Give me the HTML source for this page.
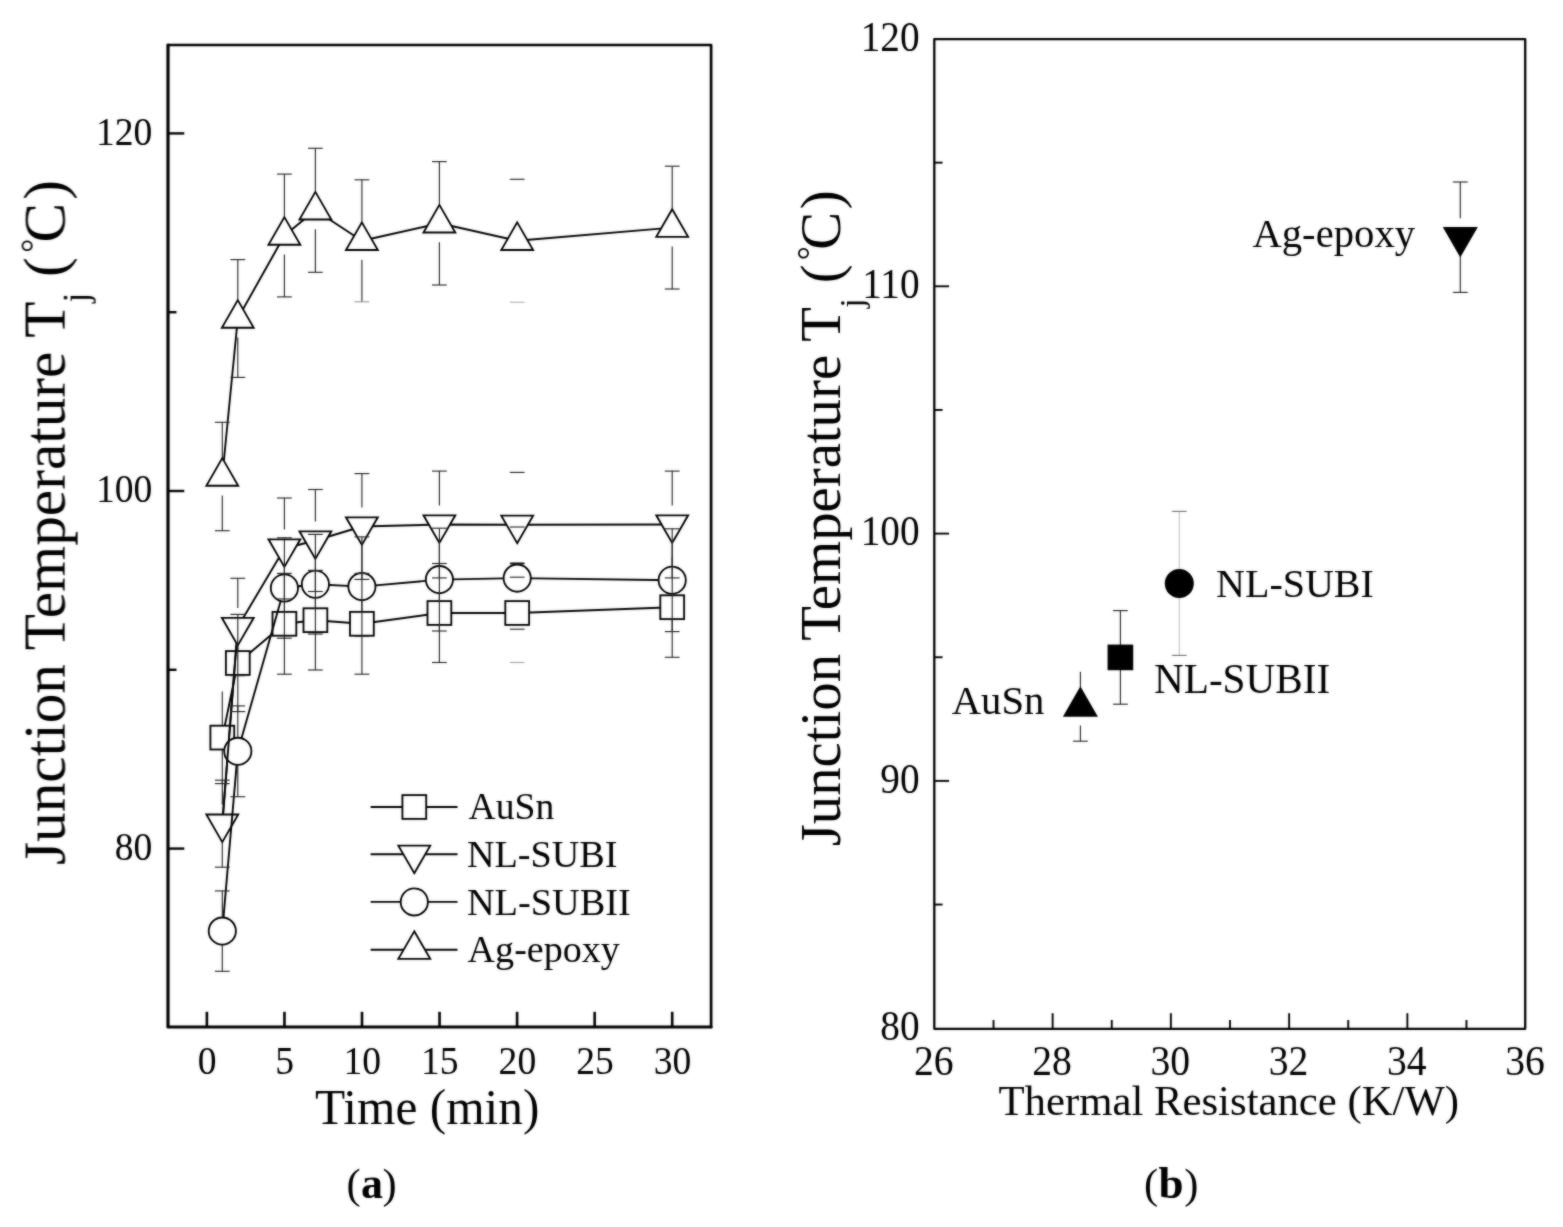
<!DOCTYPE html>
<html lang="en"><head><meta charset="utf-8"><title>Junction temperature vs time and thermal resistance</title>
<style>html,body{margin:0;padding:0;background:#fff;}body{width:1563px;height:1227px;overflow:hidden;}svg{display:block;font-family:'Liberation Serif', serif;}text{fill:#000;}</style>
</head><body>
<svg width="1563" height="1227" viewBox="0 0 1563 1227">
<defs><filter id="soft" filterUnits="userSpaceOnUse" x="0" y="0" width="1563" height="1227" color-interpolation-filters="sRGB"><feGaussianBlur in="SourceGraphic" stdDeviation="1" result="b"/><feComposite in="b" in2="SourceGraphic" operator="arithmetic" k1="0" k2="0.5" k3="0.50" k4="0"/></filter></defs>
<rect x="0" y="0" width="1563" height="1227" fill="#fff"/>
<g filter="url(#soft)">
<g id="chart-a">
<line x1="168.00" y1="848.60" x2="184.30" y2="848.60" stroke="#000" stroke-width="2.4" />
<text transform="translate(152.40,860.00) scale(0.95,1)" font-size="39.6" text-anchor="end" >80</text>
<line x1="168.00" y1="491.00" x2="184.30" y2="491.00" stroke="#000" stroke-width="2.4" />
<text transform="translate(152.40,502.40) scale(0.95,1)" font-size="39.6" text-anchor="end" >100</text>
<line x1="168.00" y1="133.40" x2="184.30" y2="133.40" stroke="#000" stroke-width="2.4" />
<text transform="translate(152.40,144.80) scale(0.95,1)" font-size="39.6" text-anchor="end" >120</text>
<line x1="168.00" y1="669.80" x2="176.50" y2="669.80" stroke="#000" stroke-width="2.4" />
<line x1="168.00" y1="312.20" x2="176.50" y2="312.20" stroke="#000" stroke-width="2.4" />
<line x1="206.90" y1="1027.00" x2="206.90" y2="1011.80" stroke="#000" stroke-width="2.6" />
<text transform="translate(207.20,1074.00) scale(0.95,1)" font-size="39.6" text-anchor="middle" >0</text>
<line x1="284.45" y1="1027.00" x2="284.45" y2="1011.80" stroke="#000" stroke-width="2.6" />
<text transform="translate(284.75,1074.00) scale(0.95,1)" font-size="39.6" text-anchor="middle" >5</text>
<line x1="362.00" y1="1027.00" x2="362.00" y2="1011.80" stroke="#000" stroke-width="2.6" />
<text transform="translate(362.30,1074.00) scale(0.95,1)" font-size="39.6" text-anchor="middle" >10</text>
<line x1="439.55" y1="1027.00" x2="439.55" y2="1011.80" stroke="#000" stroke-width="2.6" />
<text transform="translate(439.85,1074.00) scale(0.95,1)" font-size="39.6" text-anchor="middle" >15</text>
<line x1="517.10" y1="1027.00" x2="517.10" y2="1011.80" stroke="#000" stroke-width="2.6" />
<text transform="translate(517.40,1074.00) scale(0.95,1)" font-size="39.6" text-anchor="middle" >20</text>
<line x1="594.65" y1="1027.00" x2="594.65" y2="1011.80" stroke="#000" stroke-width="2.6" />
<text transform="translate(594.95,1074.00) scale(0.95,1)" font-size="39.6" text-anchor="middle" >25</text>
<line x1="672.20" y1="1027.00" x2="672.20" y2="1011.80" stroke="#000" stroke-width="2.6" />
<text transform="translate(672.50,1074.00) scale(0.95,1)" font-size="39.6" text-anchor="middle" >30</text>
<polyline points="168.0,45.0 711.1,45.0 711.1,1027.0" fill="none" stroke="#000" stroke-width="2.7" stroke-linejoin="round" stroke-linecap="round"/>
<polyline points="168.0,45.0 168.0,1027.0 711.1,1027.0" fill="none" stroke="#000" stroke-width="3.2" stroke-linejoin="round" stroke-linecap="round"/>
<text x="427.20" y="1124.00" font-size="50.5" text-anchor="middle" textLength="224.5" lengthAdjust="spacingAndGlyphs" >Time (min)</text>
<g transform="translate(64.6,865.0) rotate(-90)"><text y="0" font-size="59.3"><tspan x="0">Junction Temperature T</tspan><tspan x="562.4" dy="23.4" font-size="35">j</tspan><tspan x="588.1" dy="-23.4"> </tspan><tspan x="588.1">(</tspan><tspan x="612.2" dy="-19.3" font-size="35">°</tspan><tspan x="622.4" dy="19.3">C</tspan><tspan x="665.2">)</tspan></text></g>
<polyline points="222.30,737.60 237.80,663.00 284.40,623.80 315.40,620.20 361.90,623.80 439.40,613.00 517.20,613.00 672.20,607.20" fill="none" stroke="#000" stroke-width="1.9" stroke-linejoin="round"/>
<rect x="210.40" y="725.70" width="23.80" height="23.80" fill="#fff" stroke="#000" stroke-width="1.85"/>
<rect x="225.90" y="651.10" width="23.80" height="23.80" fill="#fff" stroke="#000" stroke-width="1.85"/>
<rect x="272.50" y="611.90" width="23.80" height="23.80" fill="#fff" stroke="#000" stroke-width="1.85"/>
<rect x="303.50" y="608.30" width="23.80" height="23.80" fill="#fff" stroke="#000" stroke-width="1.85"/>
<rect x="350.00" y="611.90" width="23.80" height="23.80" fill="#fff" stroke="#000" stroke-width="1.85"/>
<rect x="427.50" y="601.10" width="23.80" height="23.80" fill="#fff" stroke="#000" stroke-width="1.85"/>
<rect x="505.30" y="601.10" width="23.80" height="23.80" fill="#fff" stroke="#000" stroke-width="1.85"/>
<rect x="660.30" y="595.30" width="23.80" height="23.80" fill="#fff" stroke="#000" stroke-width="1.85"/>
<polyline points="222.30,823.70 237.80,627.00 284.40,548.50 315.40,540.50 361.90,526.50 439.40,524.50 517.20,524.80 672.20,524.50" fill="none" stroke="#000" stroke-width="1.9" stroke-linejoin="round"/>
<polygon points="222.30,842.10 238.23,814.50 206.37,814.50" fill="#fff" stroke="#000" stroke-width="1.85" stroke-linejoin="miter"/>
<polygon points="237.80,645.40 253.73,617.80 221.87,617.80" fill="#fff" stroke="#000" stroke-width="1.85" stroke-linejoin="miter"/>
<polygon points="284.40,566.90 300.33,539.30 268.47,539.30" fill="#fff" stroke="#000" stroke-width="1.85" stroke-linejoin="miter"/>
<polygon points="315.40,558.90 331.33,531.30 299.47,531.30" fill="#fff" stroke="#000" stroke-width="1.85" stroke-linejoin="miter"/>
<polygon points="361.90,544.90 377.83,517.30 345.97,517.30" fill="#fff" stroke="#000" stroke-width="1.85" stroke-linejoin="miter"/>
<polygon points="439.40,542.90 455.33,515.30 423.47,515.30" fill="#fff" stroke="#000" stroke-width="1.85" stroke-linejoin="miter"/>
<polygon points="517.20,543.20 533.13,515.60 501.27,515.60" fill="#fff" stroke="#000" stroke-width="1.85" stroke-linejoin="miter"/>
<polygon points="672.20,542.90 688.13,515.30 656.27,515.30" fill="#fff" stroke="#000" stroke-width="1.85" stroke-linejoin="miter"/>
<polyline points="222.30,931.10 237.80,751.30 284.40,588.00 315.40,584.20 361.90,586.60 439.40,579.60 517.20,578.10 672.20,580.20" fill="none" stroke="#000" stroke-width="1.9" stroke-linejoin="round"/>
<circle cx="222.30" cy="931.10" r="13.6" fill="#fff" stroke="#000" stroke-width="1.85"/>
<circle cx="237.80" cy="751.30" r="13.6" fill="#fff" stroke="#000" stroke-width="1.85"/>
<circle cx="284.40" cy="588.00" r="13.6" fill="#fff" stroke="#000" stroke-width="1.85"/>
<circle cx="315.40" cy="584.20" r="13.6" fill="#fff" stroke="#000" stroke-width="1.85"/>
<circle cx="361.90" cy="586.60" r="13.6" fill="#fff" stroke="#000" stroke-width="1.85"/>
<circle cx="439.40" cy="579.60" r="13.6" fill="#fff" stroke="#000" stroke-width="1.85"/>
<circle cx="517.20" cy="578.10" r="13.6" fill="#fff" stroke="#000" stroke-width="1.85"/>
<circle cx="672.20" cy="580.20" r="13.6" fill="#fff" stroke="#000" stroke-width="1.85"/>
<line x1="223.06" y1="814.00" x2="236.38" y2="645.00" stroke="#000" stroke-width="1.9" />
<polyline points="222.30,476.50 237.80,318.50 284.40,235.50 315.40,210.30 361.90,240.80 439.40,223.30 517.20,240.80 672.20,227.60" fill="none" stroke="#000" stroke-width="1.9" stroke-linejoin="round"/>
<polygon points="222.30,458.10 238.23,485.70 206.37,485.70" fill="#fff" stroke="#000" stroke-width="1.85" stroke-linejoin="miter"/>
<polygon points="237.80,300.10 253.73,327.70 221.87,327.70" fill="#fff" stroke="#000" stroke-width="1.85" stroke-linejoin="miter"/>
<polygon points="284.40,217.10 300.33,244.70 268.47,244.70" fill="#fff" stroke="#000" stroke-width="1.85" stroke-linejoin="miter"/>
<polygon points="315.40,191.90 331.33,219.50 299.47,219.50" fill="#fff" stroke="#000" stroke-width="1.85" stroke-linejoin="miter"/>
<polygon points="361.90,222.40 377.83,250.00 345.97,250.00" fill="#fff" stroke="#000" stroke-width="1.85" stroke-linejoin="miter"/>
<polygon points="439.40,204.90 455.33,232.50 423.47,232.50" fill="#fff" stroke="#000" stroke-width="1.85" stroke-linejoin="miter"/>
<polygon points="517.20,222.40 533.13,250.00 501.27,250.00" fill="#fff" stroke="#000" stroke-width="1.85" stroke-linejoin="miter"/>
<polygon points="672.20,209.20 688.13,236.80 656.27,236.80" fill="#fff" stroke="#000" stroke-width="1.85" stroke-linejoin="miter"/>
<line x1="222.30" y1="691.60" x2="222.30" y2="725.10" stroke="#262626" stroke-width="1.15" />
<line x1="222.30" y1="750.10" x2="222.30" y2="783.60" stroke="#262626" stroke-width="1.15" />
<line x1="214.90" y1="783.60" x2="229.70" y2="783.60" stroke="#262626" stroke-width="1.15" />
<line x1="237.80" y1="614.40" x2="237.80" y2="650.50" stroke="#262626" stroke-width="1.15" />
<line x1="237.80" y1="675.50" x2="237.80" y2="711.60" stroke="#262626" stroke-width="1.15" />
<line x1="230.40" y1="614.40" x2="245.20" y2="614.40" stroke="#262626" stroke-width="1.15" />
<line x1="230.40" y1="711.60" x2="245.20" y2="711.60" stroke="#262626" stroke-width="1.15" />
<line x1="284.40" y1="573.40" x2="284.40" y2="611.30" stroke="#262626" stroke-width="1.15" />
<line x1="284.40" y1="636.30" x2="284.40" y2="674.20" stroke="#262626" stroke-width="1.15" />
<line x1="277.00" y1="573.40" x2="291.80" y2="573.40" stroke="#262626" stroke-width="1.15" />
<line x1="277.00" y1="674.20" x2="291.80" y2="674.20" stroke="#262626" stroke-width="1.15" />
<line x1="315.40" y1="570.40" x2="315.40" y2="607.70" stroke="#262626" stroke-width="1.15" />
<line x1="315.40" y1="632.70" x2="315.40" y2="670.00" stroke="#262626" stroke-width="1.15" />
<line x1="308.00" y1="570.40" x2="322.80" y2="570.40" stroke="#262626" stroke-width="1.15" />
<line x1="308.00" y1="670.00" x2="322.80" y2="670.00" stroke="#262626" stroke-width="1.15" />
<line x1="361.90" y1="573.40" x2="361.90" y2="611.30" stroke="#262626" stroke-width="1.15" />
<line x1="361.90" y1="636.30" x2="361.90" y2="674.20" stroke="#262626" stroke-width="1.15" />
<line x1="354.50" y1="573.40" x2="369.30" y2="573.40" stroke="#262626" stroke-width="1.15" />
<line x1="354.50" y1="674.20" x2="369.30" y2="674.20" stroke="#262626" stroke-width="1.15" />
<line x1="439.40" y1="563.50" x2="439.40" y2="600.50" stroke="#262626" stroke-width="1.15" />
<line x1="439.40" y1="625.50" x2="439.40" y2="662.50" stroke="#262626" stroke-width="1.15" />
<line x1="432.00" y1="563.50" x2="446.80" y2="563.50" stroke="#262626" stroke-width="1.15" />
<line x1="432.00" y1="662.50" x2="446.80" y2="662.50" stroke="#262626" stroke-width="1.15" />
<line x1="509.80" y1="563.50" x2="524.60" y2="563.50" stroke="#262626" stroke-width="1.15" />
<line x1="509.80" y1="662.50" x2="524.60" y2="662.50" stroke="#a5a5a5" stroke-width="1.15" />
<line x1="672.20" y1="557.10" x2="672.20" y2="594.70" stroke="#262626" stroke-width="1.15" />
<line x1="672.20" y1="619.70" x2="672.20" y2="657.30" stroke="#262626" stroke-width="1.15" />
<line x1="664.80" y1="657.30" x2="679.60" y2="657.30" stroke="#262626" stroke-width="1.15" />
<line x1="222.30" y1="780.20" x2="222.30" y2="804.70" stroke="#262626" stroke-width="1.15" />
<line x1="222.30" y1="842.70" x2="222.30" y2="867.20" stroke="#262626" stroke-width="1.15" />
<line x1="214.90" y1="780.20" x2="229.70" y2="780.20" stroke="#262626" stroke-width="1.15" />
<line x1="214.90" y1="867.20" x2="229.70" y2="867.20" stroke="#262626" stroke-width="1.15" />
<line x1="237.80" y1="578.30" x2="237.80" y2="608.00" stroke="#262626" stroke-width="1.15" />
<line x1="237.80" y1="646.00" x2="237.80" y2="675.70" stroke="#262626" stroke-width="1.15" />
<line x1="230.40" y1="578.30" x2="245.20" y2="578.30" stroke="#262626" stroke-width="1.15" />
<line x1="230.40" y1="675.70" x2="245.20" y2="675.70" stroke="#262626" stroke-width="1.15" />
<line x1="284.40" y1="498.00" x2="284.40" y2="529.50" stroke="#262626" stroke-width="1.15" />
<line x1="284.40" y1="567.50" x2="284.40" y2="599.00" stroke="#262626" stroke-width="1.15" />
<line x1="277.00" y1="498.00" x2="291.80" y2="498.00" stroke="#262626" stroke-width="1.15" />
<line x1="277.00" y1="599.00" x2="291.80" y2="599.00" stroke="#262626" stroke-width="1.15" />
<line x1="315.40" y1="489.50" x2="315.40" y2="521.50" stroke="#262626" stroke-width="1.15" />
<line x1="315.40" y1="559.50" x2="315.40" y2="591.50" stroke="#262626" stroke-width="1.15" />
<line x1="308.00" y1="489.50" x2="322.80" y2="489.50" stroke="#262626" stroke-width="1.15" />
<line x1="308.00" y1="591.50" x2="322.80" y2="591.50" stroke="#262626" stroke-width="1.15" />
<line x1="361.90" y1="473.60" x2="361.90" y2="507.50" stroke="#262626" stroke-width="1.15" />
<line x1="361.90" y1="545.50" x2="361.90" y2="579.40" stroke="#262626" stroke-width="1.15" />
<line x1="354.50" y1="473.60" x2="369.30" y2="473.60" stroke="#262626" stroke-width="1.15" />
<line x1="354.50" y1="579.40" x2="369.30" y2="579.40" stroke="#262626" stroke-width="1.15" />
<line x1="439.40" y1="471.10" x2="439.40" y2="505.50" stroke="#262626" stroke-width="1.15" />
<line x1="439.40" y1="543.50" x2="439.40" y2="577.90" stroke="#262626" stroke-width="1.15" />
<line x1="432.00" y1="471.10" x2="446.80" y2="471.10" stroke="#262626" stroke-width="1.15" />
<line x1="432.00" y1="577.90" x2="446.80" y2="577.90" stroke="#262626" stroke-width="1.15" />
<line x1="509.80" y1="472.40" x2="524.60" y2="472.40" stroke="#262626" stroke-width="1.15" />
<line x1="509.80" y1="577.20" x2="524.60" y2="577.20" stroke="#262626" stroke-width="1.15" />
<line x1="672.20" y1="471.10" x2="672.20" y2="505.50" stroke="#262626" stroke-width="1.15" />
<line x1="672.20" y1="543.50" x2="672.20" y2="577.90" stroke="#262626" stroke-width="1.15" />
<line x1="664.80" y1="471.10" x2="679.60" y2="471.10" stroke="#262626" stroke-width="1.15" />
<line x1="664.80" y1="577.90" x2="679.60" y2="577.90" stroke="#262626" stroke-width="1.15" />
<line x1="222.30" y1="890.90" x2="222.30" y2="916.90" stroke="#262626" stroke-width="1.15" />
<line x1="222.30" y1="945.30" x2="222.30" y2="971.30" stroke="#262626" stroke-width="1.15" />
<line x1="214.90" y1="890.90" x2="229.70" y2="890.90" stroke="#262626" stroke-width="1.15" />
<line x1="214.90" y1="971.30" x2="229.70" y2="971.30" stroke="#262626" stroke-width="1.15" />
<line x1="237.80" y1="705.90" x2="237.80" y2="737.10" stroke="#262626" stroke-width="1.15" />
<line x1="237.80" y1="765.50" x2="237.80" y2="796.70" stroke="#262626" stroke-width="1.15" />
<line x1="230.40" y1="705.90" x2="245.20" y2="705.90" stroke="#262626" stroke-width="1.15" />
<line x1="230.40" y1="796.70" x2="245.20" y2="796.70" stroke="#262626" stroke-width="1.15" />
<line x1="284.40" y1="537.80" x2="284.40" y2="573.80" stroke="#262626" stroke-width="1.15" />
<line x1="284.40" y1="602.20" x2="284.40" y2="638.20" stroke="#262626" stroke-width="1.15" />
<line x1="277.00" y1="537.80" x2="291.80" y2="537.80" stroke="#262626" stroke-width="1.15" />
<line x1="277.00" y1="638.20" x2="291.80" y2="638.20" stroke="#262626" stroke-width="1.15" />
<line x1="315.40" y1="534.40" x2="315.40" y2="570.00" stroke="#262626" stroke-width="1.15" />
<line x1="315.40" y1="598.40" x2="315.40" y2="634.00" stroke="#262626" stroke-width="1.15" />
<line x1="308.00" y1="534.40" x2="322.80" y2="534.40" stroke="#262626" stroke-width="1.15" />
<line x1="308.00" y1="634.00" x2="322.80" y2="634.00" stroke="#262626" stroke-width="1.15" />
<line x1="361.90" y1="536.90" x2="361.90" y2="572.40" stroke="#262626" stroke-width="1.15" />
<line x1="361.90" y1="600.80" x2="361.90" y2="636.30" stroke="#262626" stroke-width="1.15" />
<line x1="354.50" y1="536.90" x2="369.30" y2="536.90" stroke="#262626" stroke-width="1.15" />
<line x1="354.50" y1="636.30" x2="369.30" y2="636.30" stroke="#262626" stroke-width="1.15" />
<line x1="439.40" y1="528.20" x2="439.40" y2="565.40" stroke="#262626" stroke-width="1.15" />
<line x1="439.40" y1="593.80" x2="439.40" y2="631.00" stroke="#262626" stroke-width="1.15" />
<line x1="432.00" y1="528.20" x2="446.80" y2="528.20" stroke="#262626" stroke-width="1.15" />
<line x1="432.00" y1="631.00" x2="446.80" y2="631.00" stroke="#262626" stroke-width="1.15" />
<line x1="509.80" y1="527.00" x2="524.60" y2="527.00" stroke="#262626" stroke-width="1.15" />
<line x1="509.80" y1="629.20" x2="524.60" y2="629.20" stroke="#262626" stroke-width="1.15" />
<line x1="672.20" y1="528.80" x2="672.20" y2="566.00" stroke="#262626" stroke-width="1.15" />
<line x1="672.20" y1="594.40" x2="672.20" y2="631.60" stroke="#262626" stroke-width="1.15" />
<line x1="664.80" y1="528.80" x2="679.60" y2="528.80" stroke="#262626" stroke-width="1.15" />
<line x1="664.80" y1="631.60" x2="679.60" y2="631.60" stroke="#262626" stroke-width="1.15" />
<line x1="222.30" y1="422.30" x2="222.30" y2="457.50" stroke="#262626" stroke-width="1.15" />
<line x1="222.30" y1="495.50" x2="222.30" y2="530.70" stroke="#262626" stroke-width="1.15" />
<line x1="214.90" y1="422.30" x2="229.70" y2="422.30" stroke="#262626" stroke-width="1.15" />
<line x1="214.90" y1="530.70" x2="229.70" y2="530.70" stroke="#262626" stroke-width="1.15" />
<line x1="237.80" y1="259.60" x2="237.80" y2="299.50" stroke="#262626" stroke-width="1.15" />
<line x1="237.80" y1="337.50" x2="237.80" y2="377.40" stroke="#262626" stroke-width="1.15" />
<line x1="230.40" y1="259.60" x2="245.20" y2="259.60" stroke="#262626" stroke-width="1.15" />
<line x1="230.40" y1="377.40" x2="245.20" y2="377.40" stroke="#262626" stroke-width="1.15" />
<line x1="284.40" y1="174.10" x2="284.40" y2="216.50" stroke="#262626" stroke-width="1.15" />
<line x1="284.40" y1="254.50" x2="284.40" y2="296.90" stroke="#262626" stroke-width="1.15" />
<line x1="277.00" y1="174.10" x2="291.80" y2="174.10" stroke="#262626" stroke-width="1.15" />
<line x1="277.00" y1="296.90" x2="291.80" y2="296.90" stroke="#262626" stroke-width="1.15" />
<line x1="315.40" y1="148.30" x2="315.40" y2="191.30" stroke="#262626" stroke-width="1.15" />
<line x1="315.40" y1="229.30" x2="315.40" y2="272.30" stroke="#262626" stroke-width="1.15" />
<line x1="308.00" y1="148.30" x2="322.80" y2="148.30" stroke="#262626" stroke-width="1.15" />
<line x1="308.00" y1="272.30" x2="322.80" y2="272.30" stroke="#262626" stroke-width="1.15" />
<line x1="361.90" y1="179.80" x2="361.90" y2="221.80" stroke="#262626" stroke-width="1.15" />
<line x1="361.90" y1="259.80" x2="361.90" y2="301.80" stroke="#262626" stroke-width="1.15" />
<line x1="354.50" y1="179.80" x2="369.30" y2="179.80" stroke="#262626" stroke-width="1.15" />
<line x1="354.50" y1="301.80" x2="369.30" y2="301.80" stroke="#9a9a9a" stroke-width="1.15" />
<line x1="439.40" y1="161.60" x2="439.40" y2="204.30" stroke="#262626" stroke-width="1.15" />
<line x1="439.40" y1="242.30" x2="439.40" y2="285.00" stroke="#262626" stroke-width="1.15" />
<line x1="432.00" y1="161.60" x2="446.80" y2="161.60" stroke="#262626" stroke-width="1.15" />
<line x1="432.00" y1="285.00" x2="446.80" y2="285.00" stroke="#262626" stroke-width="1.15" />
<line x1="509.80" y1="179.30" x2="524.60" y2="179.30" stroke="#262626" stroke-width="1.15" />
<line x1="509.80" y1="302.30" x2="524.60" y2="302.30" stroke="#b5b5b5" stroke-width="1.15" />
<line x1="672.20" y1="166.20" x2="672.20" y2="208.60" stroke="#262626" stroke-width="1.15" />
<line x1="672.20" y1="246.60" x2="672.20" y2="289.00" stroke="#262626" stroke-width="1.15" />
<line x1="664.80" y1="166.20" x2="679.60" y2="166.20" stroke="#262626" stroke-width="1.15" />
<line x1="664.80" y1="289.00" x2="679.60" y2="289.00" stroke="#262626" stroke-width="1.15" />
<line x1="510.20" y1="563.40" x2="524.20" y2="563.40" stroke="#111" stroke-width="1.8" />
<line x1="370.60" y1="807.00" x2="457.50" y2="807.00" stroke="#000" stroke-width="1.9" />
<line x1="370.60" y1="854.30" x2="457.50" y2="854.30" stroke="#000" stroke-width="1.9" />
<line x1="370.60" y1="901.90" x2="457.50" y2="901.90" stroke="#000" stroke-width="1.9" />
<line x1="370.60" y1="949.70" x2="457.50" y2="949.70" stroke="#000" stroke-width="1.9" />
<rect x="402.40" y="795.10" width="23.80" height="23.80" fill="#fff" stroke="#000" stroke-width="1.85"/>
<polygon points="414.30,873.20 430.23,845.60 398.37,845.60" fill="#fff" stroke="#000" stroke-width="1.85" stroke-linejoin="miter"/>
<circle cx="414.30" cy="901.90" r="13.6" fill="#fff" stroke="#000" stroke-width="1.85"/>
<polygon points="414.30,931.30 430.23,958.90 398.37,958.90" fill="#fff" stroke="#000" stroke-width="1.85" stroke-linejoin="miter"/>
<text x="468.60" y="819.30" font-size="37.6" text-anchor="start" >AuSn</text>
<text x="466.90" y="867.00" font-size="38.2" text-anchor="start" >NL-SUBI</text>
<text x="466.90" y="914.80" font-size="38.3" text-anchor="start" >NL-SUBII</text>
<text x="467.60" y="962.30" font-size="38.1" text-anchor="start" >Ag-epoxy</text>
</g>
<g id="chart-b">
<line x1="934.30" y1="780.90" x2="949.10" y2="780.90" stroke="#000" stroke-width="1.9" />
<line x1="934.30" y1="533.60" x2="949.10" y2="533.60" stroke="#000" stroke-width="1.9" />
<line x1="934.30" y1="286.30" x2="949.10" y2="286.30" stroke="#000" stroke-width="1.9" />
<line x1="934.30" y1="904.55" x2="942.60" y2="904.55" stroke="#000" stroke-width="1.9" />
<line x1="934.30" y1="657.25" x2="942.60" y2="657.25" stroke="#000" stroke-width="1.9" />
<line x1="934.30" y1="409.95" x2="942.60" y2="409.95" stroke="#000" stroke-width="1.9" />
<line x1="934.30" y1="162.65" x2="942.60" y2="162.65" stroke="#000" stroke-width="1.9" />
<text transform="translate(919.60,1039.90) scale(0.94,1)" font-size="41.8" text-anchor="end" >80</text>
<text transform="translate(919.60,792.60) scale(0.94,1)" font-size="41.8" text-anchor="end" >90</text>
<text transform="translate(919.60,545.30) scale(0.94,1)" font-size="41.8" text-anchor="end" >100</text>
<text transform="translate(919.60,298.00) scale(0.94,1)" font-size="41.8" text-anchor="end" >110</text>
<text transform="translate(919.60,50.70) scale(0.94,1)" font-size="41.8" text-anchor="end" >120</text>
<line x1="1052.64" y1="1028.80" x2="1052.64" y2="1013.20" stroke="#000" stroke-width="1.9" />
<line x1="1170.88" y1="1028.80" x2="1170.88" y2="1013.20" stroke="#000" stroke-width="1.9" />
<line x1="1289.12" y1="1028.80" x2="1289.12" y2="1013.20" stroke="#000" stroke-width="1.9" />
<line x1="1407.36" y1="1028.80" x2="1407.36" y2="1013.20" stroke="#000" stroke-width="1.9" />
<line x1="993.52" y1="1028.80" x2="993.52" y2="1020.00" stroke="#000" stroke-width="1.9" />
<line x1="1111.76" y1="1028.80" x2="1111.76" y2="1020.00" stroke="#000" stroke-width="1.9" />
<line x1="1230.00" y1="1028.80" x2="1230.00" y2="1020.00" stroke="#000" stroke-width="1.9" />
<line x1="1348.24" y1="1028.80" x2="1348.24" y2="1020.00" stroke="#000" stroke-width="1.9" />
<line x1="1466.48" y1="1028.80" x2="1466.48" y2="1020.00" stroke="#000" stroke-width="1.9" />
<text transform="translate(933.80,1074.70) scale(0.96,1)" font-size="41.3" text-anchor="middle" >26</text>
<text transform="translate(1052.04,1074.70) scale(0.96,1)" font-size="41.3" text-anchor="middle" >28</text>
<text transform="translate(1170.28,1074.70) scale(0.96,1)" font-size="41.3" text-anchor="middle" >30</text>
<text transform="translate(1288.52,1074.70) scale(0.96,1)" font-size="41.3" text-anchor="middle" >32</text>
<text transform="translate(1406.76,1074.70) scale(0.96,1)" font-size="41.3" text-anchor="middle" >34</text>
<text transform="translate(1525.00,1074.70) scale(0.96,1)" font-size="41.3" text-anchor="middle" >36</text>
<rect x="934.3" y="39.1" width="590.90" height="989.70" fill="none" stroke="#000" stroke-width="2.3" stroke-linejoin="round"/>
<text x="1228.80" y="1114.80" font-size="42.75" text-anchor="middle" >Thermal Resistance (K/W)</text>
<g transform="translate(839.8,846.3) rotate(-90)"><text y="0" font-size="56.75"><tspan x="0">Junction Temperature T</tspan><tspan x="538.5" dy="23.0" font-size="34">j</tspan><tspan x="563.0" dy="-23.0"> </tspan><tspan x="563.0">(</tspan><tspan x="586.0" dy="-17.5" font-size="35">°</tspan><tspan x="596.5" dy="17.5">C</tspan><tspan x="637.0">)</tspan></text></g>
<line x1="1460.30" y1="182.00" x2="1460.30" y2="218.20" stroke="#262626" stroke-width="1.15" />
<line x1="1460.30" y1="256.20" x2="1460.30" y2="292.40" stroke="#262626" stroke-width="1.15" />
<line x1="1452.90" y1="182.00" x2="1467.70" y2="182.00" stroke="#262626" stroke-width="1.15" />
<line x1="1452.90" y1="292.40" x2="1467.70" y2="292.40" stroke="#262626" stroke-width="1.15" />
<polygon points="1460.30,255.60 1476.23,228.00 1444.37,228.00" fill="#000" stroke="#000" stroke-width="1.85" stroke-linejoin="miter"/>
<line x1="1179.30" y1="511.40" x2="1179.30" y2="569.40" stroke="#c4c4c4" stroke-width="1.15" />
<line x1="1179.30" y1="597.40" x2="1179.30" y2="655.40" stroke="#c4c4c4" stroke-width="1.15" />
<line x1="1171.90" y1="511.40" x2="1186.70" y2="511.40" stroke="#777" stroke-width="1.15" />
<line x1="1171.90" y1="655.40" x2="1186.70" y2="655.40" stroke="#777" stroke-width="1.15" />
<circle cx="1179.30" cy="583.40" r="13.6" fill="#000" stroke="#000" stroke-width="1.85"/>
<line x1="1120.40" y1="610.60" x2="1120.40" y2="645.40" stroke="#262626" stroke-width="1.15" />
<line x1="1120.40" y1="669.40" x2="1120.40" y2="704.20" stroke="#262626" stroke-width="1.15" />
<line x1="1113.00" y1="610.60" x2="1127.80" y2="610.60" stroke="#262626" stroke-width="1.15" />
<line x1="1113.00" y1="704.20" x2="1127.80" y2="704.20" stroke="#262626" stroke-width="1.15" />
<rect x="1108.50" y="645.50" width="23.80" height="23.80" fill="#000" stroke="#000" stroke-width="1.85"/>
<line x1="1080.40" y1="671.80" x2="1080.40" y2="687.50" stroke="#262626" stroke-width="1.15" />
<line x1="1080.40" y1="725.50" x2="1080.40" y2="741.20" stroke="#262626" stroke-width="1.15" />
<line x1="1073.00" y1="741.20" x2="1087.80" y2="741.20" stroke="#262626" stroke-width="1.15" />
<polygon points="1080.40,688.10 1096.33,715.70 1064.47,715.70" fill="#000" stroke="#000" stroke-width="1.85" stroke-linejoin="miter"/>
<text x="1252.40" y="246.80" font-size="40.7" text-anchor="start" >Ag-epoxy</text>
<text x="1216.10" y="596.50" font-size="40.0" text-anchor="start" >NL-SUBI</text>
<text x="1154.00" y="693.00" font-size="41.2" text-anchor="start" >NL-SUBII</text>
<text x="951.70" y="714.30" font-size="40.7" text-anchor="start" >AuSn</text>
</g>
<g id="captions">
<text y="1197.8" font-size="42.5"><tspan x="346.5">(</tspan><tspan x="361.1" y="1198" font-size="44" font-weight="bold">a</tspan><tspan x="382.4" y="1197.8">)</tspan></text>
<text y="1197.8" font-size="42.5"><tspan x="1144.1">(</tspan><tspan x="1158.6" y="1198" font-size="45" font-weight="bold">b</tspan><tspan x="1184.2" y="1197.8">)</tspan></text>
</g>
</g>
</svg></body></html>
